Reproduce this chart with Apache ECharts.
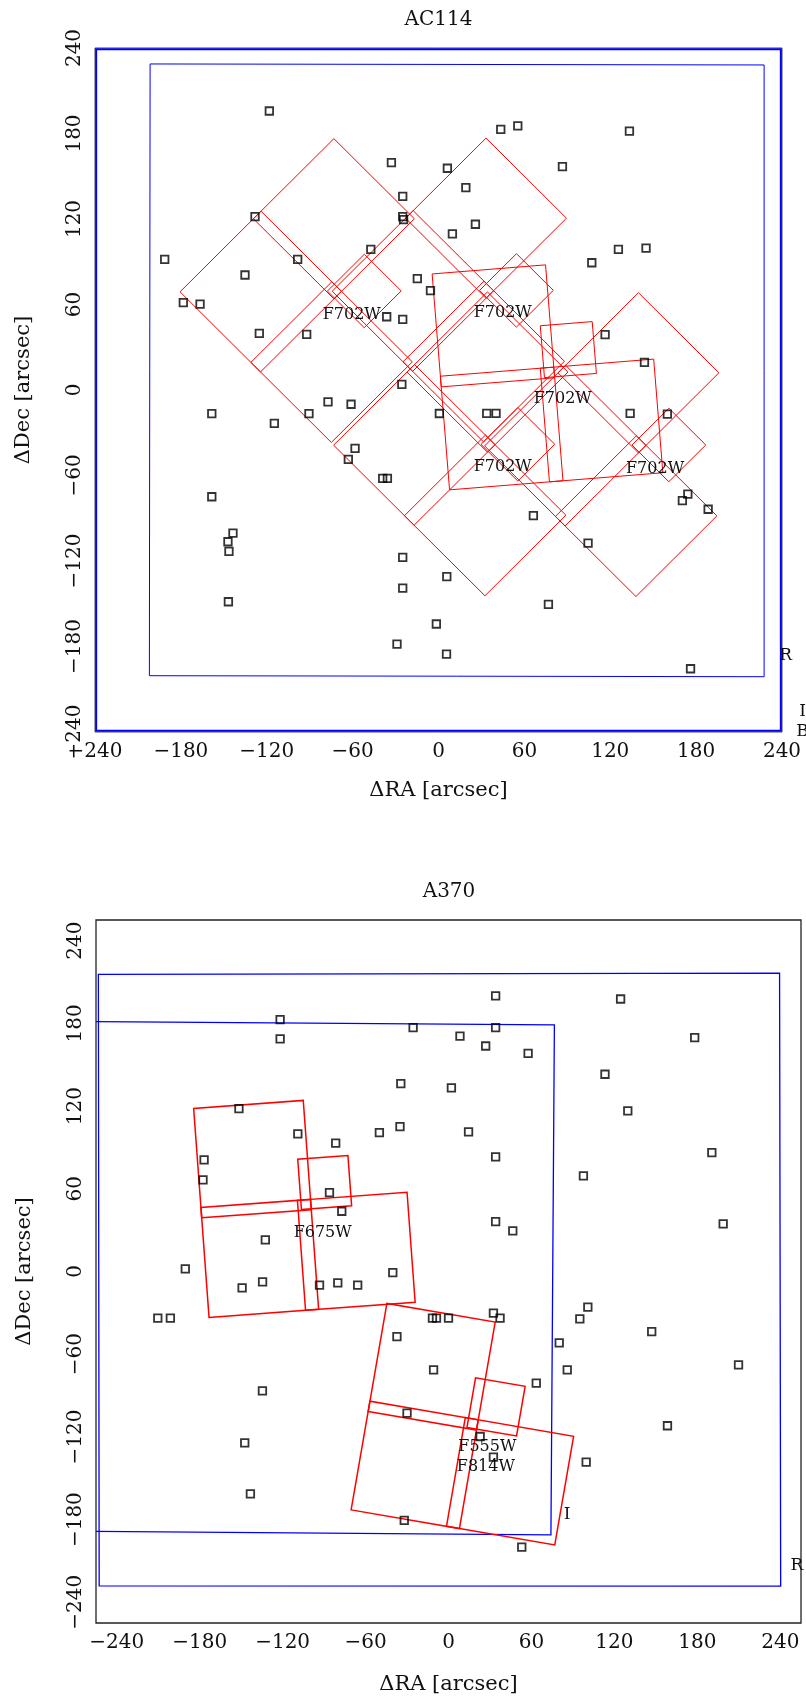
<!DOCTYPE html>
<html><head><meta charset="utf-8">
<script src="https://cdn.jsdelivr.net/npm/echarts@6/dist/echarts.min.js"></script>
<style>html,body{margin:0;padding:0;background:#fff}#c{width:806px;height:1700px}</style>
</head><body><div id="c"></div>
<script>
// ---------- tick labels ----------
const tickValues = [-240, -180, -120, -60, 0, 60, 120, 180, 240];

// ---------- WFPC2 chip template (arcsec, instrument frame: WF top-left, WF bottom-left, WF bottom-right, PC) ----------
const chipUmin = [-75, -75, -5, -2.6];
const chipUmax = [4.5, 4.5, 74.5, 33.8];
const chipVmin = [-3.5, -76, -76, -2.8];
const chipVmax = [76, 4, 4, 33.7];

// ---------- AC114 (top) ----------
const acPtgX = [-73.8, 32.5, 76.4, 33.5, 139];
const acPtgY = [69.6, 70, 11.7, -38, -38.5];
const acPtgAngle = [-45, -45, 4.6, -45, -45];
const acFilterText = ['F702W', 'F702W', 'F702W', 'F702W', 'F702W'];
const acFilterX = [-60.6, 44.9, 86.8, 44.9, 151.3];
const acFilterY = [52.6, 53.8, -6.5, -53.8, -55];

const acRRectX = [-201.5, 227.5, 227.5, -202];
const acRRectY = [228.8, 228.1, -201.2, -200.5];
const acIRectX = [-239.2, 239.2, 239.2, -239.2];
const acIRectY = [239.2, 239.2, -239.2, -239.2];
const acBandText = ['R', 'I', 'B'];
const acBandX = [242.5, 254.4, 254.4];
const acBandY = [-186.7, -225.8, -239.8];

const acStarX = [-118.2, 43.5, 55.4, 133.4, -32.9, 6.2, 86.6, 19.1, -25.0, -128.2, -25.0, -24.4, 25.8, 9.7,
  125.7, 145.0, -191.3, -98.4, -47.3, 107.1, -135.2, -14.8, -5.6, -178.3, -166.6, -36.2, -25.0, -125.2,
  -92.1, 116.4, 143.9, -25.6, -77.2, -61.1, -158.4, -90.5, -114.7, 0.6, 33.7, 40.2, 133.9, 159.9, -58.3,
  -63.0, -39.0, -35.7, -158.4, 174.2, 170.4, 188.4, 66.3, -143.6, -147.1, -146.4, 104.5, -25.0, 5.8, -25.0,
  76.8, -146.8, -1.5, -29.0, 5.6, 176.1];
const acStarY = [195.8, 182.9, 185.3, 181.7, 159.5, 155.6, 156.7, 142.0, 135.9, 121.6, 121.7, 119.6, 116.3, 109.5,
  98.7, 99.6, 91.7, 91.7, 98.7, 89.3, 80.7, 78.1, 69.7, 61.3, 60.3, 51.4, 49.6, 39.8,
  39.1, 38.8, 19.4, 4.0, -8.4, -10.0, -16.6, -16.6, -23.4, -16.5, -16.4, -16.4, -16.4, -16.9, -40.9,
  -48.7, -62.0, -62.0, -74.9, -73.0, -77.7, -83.7, -88.2, -100.4, -106.5, -113.2, -107.4, -117.4, -131.0, -139.0,
  -150.4, -148.6, -164.2, -178.3, -185.3, -195.6];

// ---------- A370 (bottom) ----------
const a3PtgX = [-104, 16.4];
const a3PtgY = [48, -110.8];
const a3PtgAngle = [4.2, -9.8];
const a3FilterText = ['F675W', 'F555W', 'F814W'];
const a3FilterX = [-91, 28.1, 27];
const a3FilterY = [28.2, -126.9, -141.9];

const a3RRectX = [-253.3, 239.5, 240.3, -252.7];
const a3RRectY = [215.6, 216.4, -228.2, -228.0];
const a3IRectX = [-293.4, 76.6, 74.1, -295.9];
const a3IRectY = [181.6, 178.9, -191.0, -188.3];
const a3BandText = ['I', 'R'];
const a3BandX = [85.8, 252];
const a3BandY = [-176.5, -213.5];

const a3StarX = [34.1, 124.5, -121.8, -25.6, 34.1, 8.3, -121.8, 26.9, 57.6, 178.1, 113.2, -34.5, 2.1, 129.7,
  -151.6, -109.0, -50.0, -35.1, 14.5, -81.6, -176.8, 34.1, 190.5, -177.6, 97.6, -86.1, -77.2, 34.1, 46.5,
  198.7, -132.5, -190.4, -40.3, -149.3, -134.5, -93.3, -80.1, -65.7, -210.3, -201.2, -11.6, -8.7, 0.0, 32.5,
  37.3, 100.8, 95.0, 147.0, 80.1, -37.3, 209.8, -10.8, 85.9, 63.5, -134.6, -30.0, 158.4, 22.9, 32.5, 99.6,
  -147.4, -143.3, -32.0, 53.0];
const a3StarY = [199.9, 197.7, 182.7, 176.9, 176.9, 170.7, 168.7, 163.6, 158.3, 169.6, 143.1, 136.3, 133.2, 116.5,
  118.2, 99.8, 100.8, 105.1, 101.3, 93.1, 81.0, 83.1, 86.2, 66.4, 69.3, 57.2, 43.7, 36.2, 29.5,
  34.5, 22.9, 1.9, -0.8, -11.9, -7.5, -9.9, -8.2, -9.9, -33.8, -33.8, -33.8, -33.8, -33.8, -30.2,
  -33.8, -25.9, -34.4, -43.6, -51.8, -47.2, -67.7, -71.3, -71.3, -81.0, -86.6, -102.7, -111.9, -119.7, -134.7, -138.3,
  -124.3, -161.3, -180.6, -199.9];

// ---------- helpers ----------
const FONT = 'DejaVu Serif';
const TXT = '#111';
function fmt(v) {
  if (tickValues.indexOf(v) < 0) return '';
  return v < 0 ? '\u2212' + Math.abs(v) : String(v);
}

function footprintSeries(g, xs, ys, angs, lw) {
  return {
    type: 'custom', xAxisIndex: g, yAxisIndex: g, clip: true, silent: true, z: 3,
    data: xs.map((x, i) => [x, ys[i], angs[i]]),
    encode: { x: 0, y: 1 },
    renderItem: function (params, api) {
      const cx = api.value(0), cy = api.value(1), a = api.value(2) * Math.PI / 180;
      const c = Math.cos(a), s = Math.sin(a);
      const children = [];
      for (let k = 0; k < chipUmin.length; k++) {
        const corners = [[chipUmin[k], chipVmin[k]], [chipUmax[k], chipVmin[k]], [chipUmax[k], chipVmax[k]], [chipUmin[k], chipVmax[k]]];
        const pts = corners.map(function (p) { return api.coord([cx + p[0] * c - p[1] * s, cy + p[0] * s + p[1] * c]); });
        children.push({ type: 'polygon', shape: { points: pts }, style: { fill: 'none', stroke: '#ff0000', lineWidth: lw } });
      }
      return { type: 'group', children: children };
    }
  };
}

function rectSeries(g, rects, lw) {
  return {
    type: 'custom', xAxisIndex: g, yAxisIndex: g, clip: true, silent: true, z: 2,
    data: rects.map(r => [r[0][0], r[1][0]]),
    encode: { x: 0, y: 1 },
    renderItem: function (params, api) {
      const r = rects[params.dataIndex];
      const pts = r[0].map((x, i) => api.coord([x, r[1][i]]));
      return { type: 'polygon', shape: { points: pts }, style: { fill: 'none', stroke: '#0000ff', lineWidth: lw } };
    }
  };
}

function textSeries(g, texts, xs, ys, size) {
  return {
    type: 'custom', xAxisIndex: g, yAxisIndex: g, clip: false, silent: true, z: 5,
    data: xs.map((x, i) => [x, ys[i]]),
    encode: { x: 0, y: 1 },
    renderItem: function (params, api) {
      const p = api.coord([api.value(0), api.value(1)]);
      return { type: 'text', x: p[0], y: p[1],
        style: { text: texts[params.dataIndex], fill: TXT, font: size + 'px "' + FONT + '"',
          align: 'center', verticalAlign: 'middle', textAlign: 'center', textVerticalAlign: 'middle' } };
    }
  };
}

function starSeries(g, xs, ys) {
  return {
    type: 'scatter', xAxisIndex: g, yAxisIndex: g, silent: true, z: 6,
    symbol: 'rect', symbolSize: 7.5,
    itemStyle: { color: 'rgba(255,255,255,0)', borderColor: '#000', borderWidth: 1.8 },
    data: xs.map((x, i) => [x, ys[i]])
  };
}

function xAxisCfg(g, min, max, interval, gap) {
  return {
    gridIndex: g, type: 'value', min: min, max: max, interval: interval,
    axisLine: { show: false }, axisTick: { show: false }, splitLine: { show: false },
    axisLabel: { formatter: fmt, margin: 10, fontFamily: FONT, fontSize: 20, color: TXT, showMinLabel: true, showMaxLabel: true },
    name: '\u0394RA [arcsec]', nameLocation: 'middle', nameGap: gap,
    nameTextStyle: { fontFamily: FONT, fontSize: 21, color: TXT }
  };
}
function yAxisCfg(g, min, max, interval) {
  return {
    gridIndex: g, type: 'value', min: min, max: max, interval: interval,
    axisLine: { show: false }, axisTick: { show: false }, splitLine: { show: false },
    axisLabel: { formatter: fmt, margin: 10, rotate: 90, fontFamily: FONT, fontSize: 20, color: TXT, showMinLabel: true, showMaxLabel: true },
    name: '\u0394Dec [arcsec]', nameLocation: 'middle', nameGap: 61,
    nameTextStyle: { fontFamily: FONT, fontSize: 21, color: TXT }
  };
}

const chart = echarts.init(document.getElementById('c'), null, { renderer: 'canvas' });
chart.setOption({
  animation: false,
  backgroundColor: '#fff',
  graphic: [
    { type: 'text', x: 438.5, y: 20, style: { text: 'AC114', font: '20px "' + FONT + '"', fill: TXT, align: 'center', verticalAlign: 'middle' } },
    { type: 'text', x: 449, y: 892, style: { text: 'A370', font: '20px "' + FONT + '"', fill: TXT, align: 'center', verticalAlign: 'middle' } }
  ],
  grid: [
    { left: 95, top: 48, width: 687, height: 684, show: true, borderColor: '#444', borderWidth: 1, backgroundColor: 'transparent' },
    { left: 96, top: 920, width: 705, height: 703, show: true, borderColor: '#222', borderWidth: 1.3, backgroundColor: 'transparent' }
  ],
  xAxis: [xAxisCfg(0, -240, 240, 60, 48), xAxisCfg(1, -255, 255, 15, 51)],
  yAxis: [yAxisCfg(0, -240, 240, 60), yAxisCfg(1, -255, 255, 15)],
  series: [
    rectSeries(0, [[acRRectX, acRRectY]], 1),
    rectSeries(0, [[acIRectX, acIRectY]], 2),
    footprintSeries(0, acPtgX, acPtgY, acPtgAngle, 1),
    textSeries(0, acFilterText, acFilterX, acFilterY, 16),
    textSeries(0, acBandText, acBandX, acBandY, 17),
    starSeries(0, acStarX, acStarY),

    rectSeries(1, [[a3RRectX, a3RRectY], [a3IRectX, a3IRectY]], 1.3),
    footprintSeries(1, a3PtgX, a3PtgY, a3PtgAngle, 1.5),
    textSeries(1, a3FilterText, a3FilterX, a3FilterY, 16),
    textSeries(1, a3BandText, a3BandX, a3BandY, 17),
    starSeries(1, a3StarX, a3StarY)
  ]
});
</script>
</body></html>
